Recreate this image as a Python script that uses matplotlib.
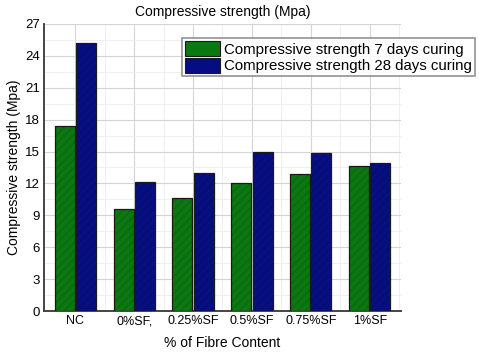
import matplotlib.pyplot as plt
import numpy as np
from matplotlib.patches import Patch

plt.rcParams['font.family'] = ['Liberation Sans', 'DejaVu Sans']
plt.rcParams['hatch.linewidth'] = 1.5

categories = ["NC", "0%SF,", "0.25%SF", "0.5%SF", "0.75%SF", "1%SF"]
days7 = [17.4, 9.6, 10.6, 12.0, 12.9, 13.6]
days28 = [25.2, 12.1, 13.0, 15.0, 14.9, 13.9]

green = '#0a7a10'
blue = '#050d82'

fig = plt.figure(figsize=(4.79, 3.56), dpi=100)
ax = fig.add_axes([0.092, 0.126, 0.745, 0.807])

x = np.arange(len(categories))
w = 0.34
off = 0.18

# fill with faint diagonal hatch, then black outline
ax.bar(x - off, days7, w, color=green, edgecolor='#0f6a14', hatch='////', linewidth=0, zorder=3)
ax.bar(x + off, days28, w, color=blue, edgecolor='#0a1278', hatch='////', linewidth=0, zorder=3)
ax.bar(x - off, days7, w, fill=False, edgecolor='#1a1a1a', linewidth=0.9, zorder=4)
ax.bar(x + off, days28, w, fill=False, edgecolor='#1a1a1a', linewidth=0.9, zorder=4)

ax.set_xlim(-0.53, 5.53)
ax.set_ylim(0, 27)
ax.set_yticks(np.arange(0, 28, 3))
ax.set_yticks(np.arange(0, 27, 1.5), minor=True)
ax.set_xticks(x)
ax.set_xticks(x + 0.5, minor=True)
ax.set_xticklabels(categories, fontsize=9)
ax.tick_params(axis='y', labelsize=9.5)
ax.tick_params(which='both', length=0, pad=3)

ax.grid(which='major', color='#d4d4d4', linewidth=0.8, zorder=0)
ax.grid(which='minor', color='#ececec', linewidth=0.6, zorder=0)
ax.set_axisbelow(True)

for s in ['top', 'right']:
    ax.spines[s].set_visible(False)
for s in ['left', 'bottom']:
    ax.spines[s].set_color('#444444')
    ax.spines[s].set_linewidth(1.4)

ax.set_title("Compressive strength (Mpa)", fontsize=10, pad=6)
ax.set_xlabel("% of Fibre Content", fontsize=10, labelpad=6)
ax.set_ylabel("Compressive strength (Mpa)", fontsize=10, labelpad=3)

handles = [Patch(facecolor=green, edgecolor='#1a1a1a', linewidth=0.8),
           Patch(facecolor=blue, edgecolor='#1a1a1a', linewidth=0.8)]
leg = fig.legend(handles, ["Compressive strength 7 days curing", "Compressive strength 28 days curing"],
                 loc='upper left', bbox_to_anchor=(0.38, 0.893), fontsize=10.8,
                 frameon=True, fancybox=False, handlelength=2.3, handleheight=1.2,
                 handletextpad=0.3, labelspacing=0.05, borderpad=0.2, borderaxespad=0)
leg.get_frame().set_edgecolor('#777777')
leg.get_frame().set_linewidth(1.2)

fig.savefig("out.png", dpi=100)
